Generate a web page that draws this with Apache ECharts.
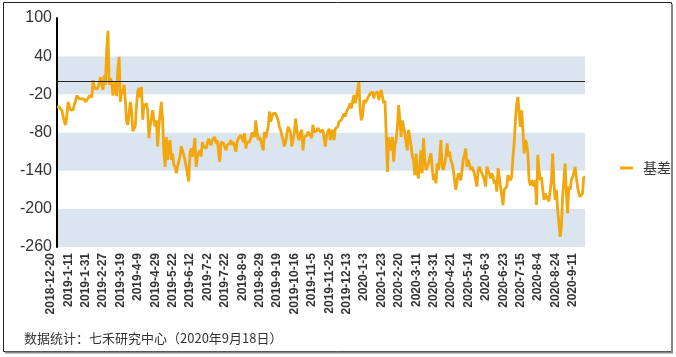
<!DOCTYPE html>
<html>
<head>
<meta charset="utf-8">
<script src="https://cdn.jsdelivr.net/npm/echarts@6/dist/echarts.min.js"></script>
<style>
  html, body { margin: 0; padding: 0; background: #fff; }
  #chart { width: 676px; height: 357px; }
</style>
</head>
<body>
<div id="chart"></div>
<script>
// ---- Data ----
const seriesName = '基差';
const footerText = '数据统计：七禾研究中心（2020年9月18日）';
const startDate = [2018, 12, 20];
const endDate = [2020, 9, 18];
// Weekday exchange closures (China) in the period
const holidays = [
  '2018-12-31', '2019-1-1',
  '2019-2-4', '2019-2-5', '2019-2-6', '2019-2-7', '2019-2-8',
  '2019-4-5', '2019-5-1', '2019-5-2', '2019-5-3', '2019-6-7', '2019-9-13',
  '2019-10-1', '2019-10-2', '2019-10-3', '2019-10-4', '2019-10-7',
  '2020-1-1', '2020-1-24', '2020-1-27', '2020-1-28', '2020-1-29', '2020-1-30', '2020-1-31',
  '2020-4-6', '2020-5-1', '2020-5-4', '2020-5-5', '2020-6-25', '2020-6-26'
];
const yTicks = [-260, -200, -140, -80, -20, 40, 100];

const basisValues = [
  -40, -41, -40, -43, -46, -55, -64, -68, -52, -32,
  -40, -45, -42, -44, -36, -30, -22, -25, -27, -24,
  -27, -30, -28, -32, -30, -26, -22, -20, -25, 2,
  -8, -12, -14, -10, -2, 7, -5, -13, 10, -5,
  50, 80, -5, 5, 0, -22, -5, 0, -23, 20,
  39, -32, -12, -18, -5, -30, -63, -68, -50, -32,
  -45, -78, -79, -70, -37, -15, -10, -25, -8, -60,
  -35, -40, -34, -45, -89, -70, -58, -45, -60, -71,
  -61, -102, -70, -50, -32, -61, -110, -134, -87, -123,
  -100, -92, -123, -113, -130, -134, -144, -134, -125, -118,
  -102, -100, -115, -123, -134, -145, -157, -113, -105, -118,
  -105, -89, -134, -118, -112, -108, -118, -95, -102, -102,
  -105, -97, -90, -87, -100, -92, -90, -87, -97, -92,
  -110, -126, -95, -92, -97, -100, -108, -100, -98, -97,
  -92, -100, -95, -92, -110, -95, -89, -92, -84, -90,
  -95, -81, -105, -95, -92, -95, -89, -80, -79, -87,
  -61, -80, -92, -87, -92, -100, -108, -79, -89, -80,
  -71, -47, -63, -55, -50, -52, -50, -47, -61, -71,
  -76, -85, -92, -102, -95, -92, -71, -68, -80, -102,
  -92, -81, -58, -75, -87, -92, -80, -76, -108, -87,
  -89, -85, -79, -76, -85, -89, -68, -79, -81, -78,
  -73, -76, -79, -79, -76, -78, -102, -85, -79, -74,
  -92, -80, -76, -92, -74, -74, -71, -63, -63, -60,
  -58, -50, -55, -47, -45, -40, -34, -42, -30, -21,
  -34, -25, -13, 1, -45, -61, -53, -29, -34, -30,
  -26, -24, -19, -22, -16, -26, -19, -22, -16, -29,
  -20, -13, -24, -34, -30, -32, -142, -87, -100, -108,
  -87, -126, -100, -92, -71, -37, -60, -87, -61, -71,
  -80, -97, -108, -76, -87, -100, -118, -123, -147, -113,
  -144, -152, -130, -108, -144, -89, -120, -139, -134, -129,
  -120, -113, -134, -155, -145, -160, -129, -139, -120, -92,
  -134, -139, -130, -118, -97, -118, -110, -123, -129, -139,
  -155, -170, -168, -144, -150, -155, -139, -123, -115, -105,
  -134, -123, -130, -139, -134, -139, -145, -155, -165, -139,
  -134, -140, -144, -149, -155, -165, -134, -139, -145, -152,
  -144, -149, -160, -155, -173, -136, -150, -165, -165, -194,
  -170, -168, -165, -147, -150, -155, -150, -118, -97, -60,
  -35, -24, -50, -71, -45, -75, -113, -92, -97, -113,
  -155, -163, -155, -160, -165, -155, -194, -115, -139, -155,
  -150, -170, -186, -176, -181, -184, -188, -191, -155, -113,
  -160, -186, -170, -202, -223, -244, -228, -181, -155, -129,
  -176, -207, -165, -170, -155, -150, -144, -134, -150, -165,
  -176, -181, -180, -176, -150, -150
];

// ---- Category dates (trading days) ----
function buildTradingDays(start, end, closed) {
  const closedSet = new Set(closed);
  const out = [];
  const d = new Date(start[0], start[1] - 1, start[2]);
  const e = new Date(end[0], end[1] - 1, end[2]);
  while (d <= e) {
    const wd = d.getDay();
    const key = d.getFullYear() + '-' + (d.getMonth() + 1) + '-' + d.getDate();
    if (wd !== 0 && wd !== 6 && !closedSet.has(key)) out.push(key);
    d.setDate(d.getDate() + 1);
  }
  return out;
}
const categories = buildTradingDays(startDate, endDate, holidays);

const lineColor = '#f2a70f';
const chart = echarts.init(document.getElementById('chart'), null, { renderer: 'canvas' });
chart.setOption({
  animation: false,
  backgroundColor: '#ffffff',
  grid: { left: 57, right: 91, top: 18, bottom: 110, containLabel: false },
  title: {
    text: footerText,
    left: 19,
    top: 327,
    textStyle: { fontSize: 13, fontWeight: 'normal', color: '#333', fontFamily: '"Noto Sans CJK SC", sans-serif' }
  },
  legend: {
    data: [seriesName],
    left: 620,
    top: 161,
    padding: 0,
    icon: 'rect',
    itemWidth: 13,
    itemHeight: 3,
    textStyle: { fontSize: 14, color: '#333', fontFamily: '"Noto Sans CJK SC", sans-serif', padding: [0, 0, 0, 5] }
  },
  xAxis: {
    type: 'category',
    data: categories,
    boundaryGap: false,
    axisLine: { show: false },
    axisTick: { show: false },
    splitLine: { show: false },
    axisLabel: {
      interval: 13,
      rotate: 90,
      margin: 6,
      fontSize: 12,
      fontWeight: 'bold',
      color: '#333',
      fontFamily: '"Liberation Sans", Arial, sans-serif',
      verticalAlign: 'bottom',
      lineHeight: 12
    }
  },
  yAxis: {
    type: 'value',
    min: yTicks[0],
    max: yTicks[yTicks.length - 1],
    interval: yTicks[1] - yTicks[0],
    axisLine: { show: true, lineStyle: { color: '#000', width: 2 } },
    axisTick: { show: false },
    splitLine: { show: false },
    splitArea: { show: true, areaStyle: { color: ['#dbe5f0', '#ffffff'] } },
    axisLabel: { fontSize: 16, color: '#333', margin: 5, fontFamily: '"Liberation Sans", Arial, sans-serif' }
  },
  series: [{
    name: seriesName,
    type: 'line',
    data: basisValues,
    symbol: 'none',
    lineStyle: { color: lineColor, width: 2.8 },
    itemStyle: { color: lineColor },
    markLine: {
      silent: true,
      symbol: 'none',
      label: { show: false },
      lineStyle: { color: '#222', width: 1.2, type: 'solid' },
      data: [{ yAxis: 0 }]
    }
  }],
  graphic: [
    { type: 'rect', shape: { x: 3.5, y: 2.5, width: 668, height: 349 }, style: { fill: 'none', stroke: '#222', lineWidth: 1 }, silent: true },
    { type: 'line', shape: { x1: 672, y1: 4, x2: 672, y2: 353 }, style: { stroke: '#888', lineWidth: 2 }, silent: true },
    { type: 'line', shape: { x1: 5, y1: 352.5, x2: 673, y2: 352.5 }, style: { stroke: '#888', lineWidth: 2 }, silent: true }
  ]
});
</script>
</body>
</html>
